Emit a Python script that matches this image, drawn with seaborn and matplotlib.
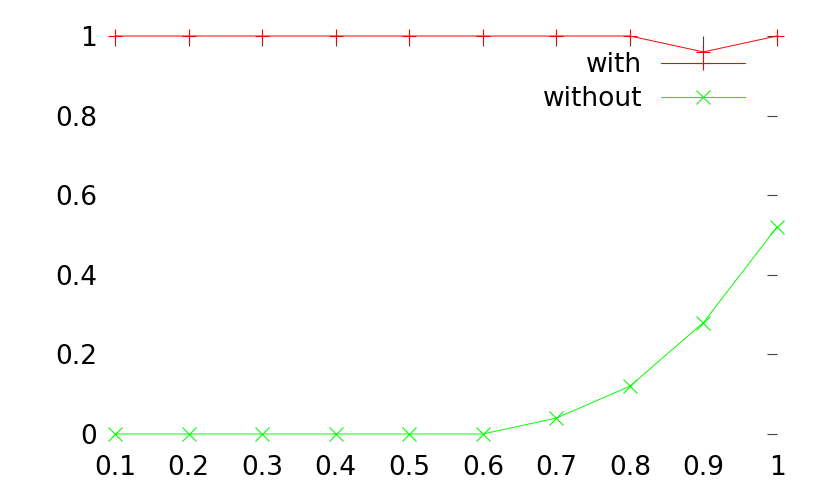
import matplotlib
matplotlib.use("Agg")
import matplotlib.pyplot as plt
from matplotlib.lines import Line2D
from matplotlib.ticker import FormatStrFormatter
import pandas as pd
import seaborn as sns

# valores
x_vals = [0.1, 0.2, 0.3, 0.4, 0.5, 0.6, 0.7, 0.8, 0.9, 1.0]
with_vals = [1, 1, 1, 1, 1, 1, 1, 1, 0.96, 1]
without_vals = [0, 0, 0, 0, 0, 0, 0.04, 0.12, 0.28, 0.52]
y_ticks = [0, 0.2, 0.4, 0.6, 0.8, 1]
series_labels = ['with', 'without']
series_colors = ['#ff0000', '#00ff00']
series_markers = ['+', 'x']

df = pd.DataFrame({'x': x_vals, 'with': with_vals, 'without': without_vals})

sns.set_style('white')
plt.rcParams['font.family'] = ['DejaVu Sans']
plt.rcParams['text.color'] = 'black'

fig = plt.figure(figsize=(8.3, 4.98), dpi=100)
ax = fig.add_axes([115 / 830, 1 - 434 / 498, (777 - 115) / 830, (434 - 36) / 498])

for col, c, m in zip(series_labels, series_colors, series_markers):
    sns.lineplot(data=df, x='x', y=col, ax=ax, color=c, linewidth=0.7,
                 marker=m, markersize=10, markeredgewidth=0.8, markeredgecolor=c,
                 clip_on=False, zorder=3)

ax.set_xlim(0.1, 1.0)
ax.set_ylim(0, 1)
ax.set_xticks(x_vals)
ax.set_yticks(y_ticks)
ax.xaxis.set_major_formatter(FormatStrFormatter('%g'))
ax.yaxis.set_major_formatter(FormatStrFormatter('%g'))
ax.set_xlabel('')
ax.set_ylabel('')
for s in ax.spines.values():
    s.set_visible(False)
ax.tick_params(axis='both', direction='in', top=True, right=True, length=7.5,
               width=0.8, color='#444444', labelsize=19, labelcolor='black')
ax.tick_params(axis='y', pad=13)
ax.tick_params(axis='x', pad=15)

handles = [Line2D([], [], color=c, linewidth=0.8, marker=m, markersize=10,
                  markeredgewidth=0.8, markeredgecolor=c)
           for c, m in zip(series_colors, series_markers)]
leg = ax.legend(handles, series_labels, loc='upper right',
                bbox_to_anchor=(745 / 830, 1 - 52.5 / 498),
                bbox_transform=fig.transFigure, frameon=False, markerfirst=False,
                fontsize=19, handlelength=3.2, handletextpad=0.7,
                labelspacing=0.3, borderpad=0, borderaxespad=0)

fig.savefig('out.png', dpi=100)
